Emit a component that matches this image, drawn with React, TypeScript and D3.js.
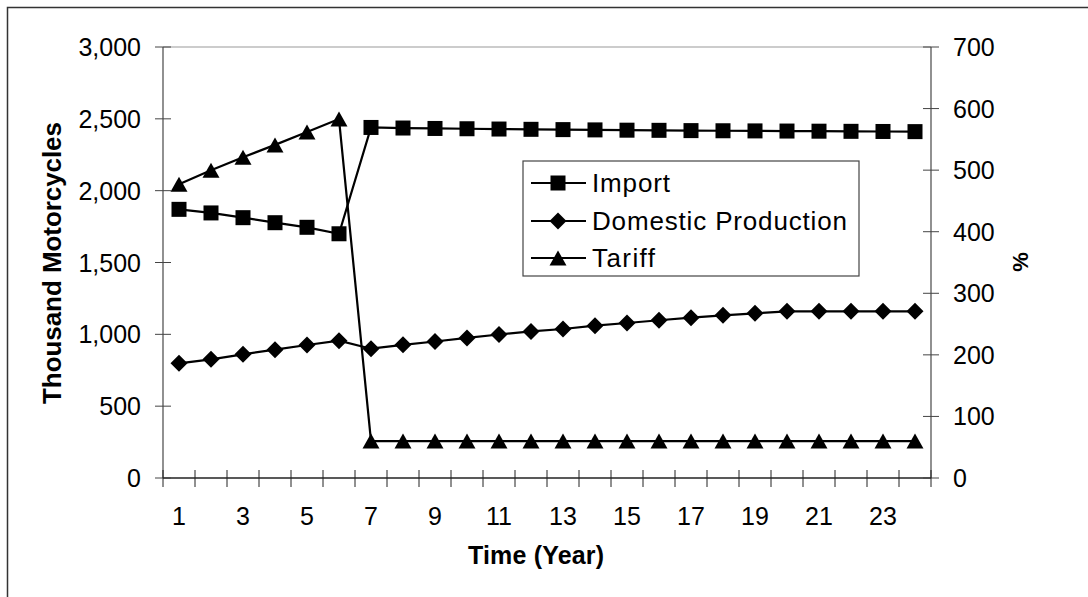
import React from "react";
import * as d3 from "d3";

const years = Array.from({ length: 24 }, (_, i) => i + 1);
const importValues = [1870, 1845, 1812, 1777, 1745, 1700, 2440, 2436, 2433, 2431, 2429, 2427, 2425, 2423, 2421, 2420, 2418, 2417, 2416, 2415, 2414, 2413, 2412, 2411];
const domesticValues = [798, 826, 861, 893, 926, 956, 900, 927, 950, 975, 999, 1020, 1037, 1060, 1079, 1098, 1116, 1132, 1146, 1160, 1160, 1160, 1160, 1160];
const tariffValues = [477, 500, 521, 541, 562, 583, 60, 60, 60, 60, 60, 60, 60, 60, 60, 60, 60, 60, 60, 60, 60, 60, 60, 60];
const leftTicks = [0, 500, 1000, 1500, 2000, 2500, 3000];
const rightTicks = [0, 100, 200, 300, 400, 500, 600, 700];
const xLabelYears = years.filter((y) => y % 2 === 1);
const seriesNames = ["Import", "Domestic Production", "Tariff"];

const W = 1088, H = 597;
const L = 163, R = 931, T = 47, B = 478;
const FONT = "'Liberation Sans', Arial, sans-serif";

function marker(kind: string, cx: number, cy: number, key?: any) {
  if (kind === "square") {
    const s = 7.5;
    return <rect key={key} x={cx - s} y={cy - s} width={2 * s} height={2 * s} fill="#000" />;
  }
  if (kind === "diamond") {
    const s = 8.5;
    return <path key={key} d={`M${cx},${cy - s}L${cx + s},${cy}L${cx},${cy + s}L${cx - s},${cy}Z`} fill="#000" />;
  }
  const w = 8.5, h = 7.5;
  return <path key={key} d={`M${cx},${cy - h}L${cx + w},${cy + h}L${cx - w},${cy + h}Z`} fill="#000" />;
}

export default function App() {
  const x = d3.scaleBand<number>().domain(years).range([L, R]).padding(0);
  const cx = (d: number) => (x(d) as number) + x.bandwidth() / 2;
  const yL = d3.scaleLinear().domain([0, 3000]).range([B, T]);
  const yR = d3.scaleLinear().domain([0, 700]).range([B, T]);
  const fmt = d3.format(",");

  const series = [
    { name: seriesNames[0], values: importValues, y: yL, kind: "square" },
    { name: seriesNames[1], values: domesticValues, y: yL, kind: "diamond" },
    { name: seriesNames[2], values: tariffValues, y: yR, kind: "triangle" },
  ];

  const xTickPositions = d3.range(years.length + 1).map((i) => L + i * x.bandwidth());

  const legendRows = [183, 221, 258];

  return (
    <svg width={W} height={H} style={{ position: "absolute", left: 0, top: 0 }} fontFamily={FONT}>
      <rect x={0} y={0} width={W} height={H} fill="#fff" />
      <rect x={7.5} y={7.5} width={W + 20} height={H + 20} fill="none" stroke="#333" strokeWidth={1.5} />

      {/* plot area top border */}
      <line x1={L} x2={R} y1={T} y2={T} stroke="#999" strokeWidth={1} />

      {/* axes */}
      <line x1={L} x2={L} y1={T} y2={B} stroke="#555" strokeWidth={1.3} />
      <line x1={R} x2={R} y1={T} y2={B} stroke="#555" strokeWidth={1.3} />
      <line x1={L} x2={R} y1={B} y2={B} stroke="#222" strokeWidth={1.3} />

      {leftTicks.map((t) => (
        <g key={"l" + t}>
          <line x1={L - 8} x2={L + 8} y1={yL(t)} y2={yL(t)} stroke="#444" strokeWidth={1} />
          <text x={141} y={yL(t) + 9} textAnchor="end" fontSize={25} fill="#000">{fmt(t)}</text>
        </g>
      ))}
      {rightTicks.map((t) => (
        <g key={"r" + t}>
          <line x1={R - 8} x2={R + 8} y1={yR(t)} y2={yR(t)} stroke="#444" strokeWidth={1} />
          <text x={953} y={yR(t) + 9} textAnchor="start" fontSize={25} fill="#000">{fmt(t)}</text>
        </g>
      ))}
      {xTickPositions.map((p, i) => (
        <line key={"xt" + i} x1={p} x2={p} y1={B - 8} y2={B + 9} stroke="#222" strokeWidth={1} />
      ))}
      {xLabelYears.map((yv) => (
        <text key={"xl" + yv} x={cx(yv)} y={525} textAnchor="middle" fontSize={25} fill="#000">{yv}</text>
      ))}

      {/* axis titles */}
      <text x={536} y={564} textAnchor="middle" fontSize={25} fontWeight="bold" textLength={136} lengthAdjust="spacing">Time (Year)</text>
      <text transform={`translate(61,263) rotate(-90)`} textAnchor="middle" fontSize={26} fontWeight="bold" textLength={282} lengthAdjust="spacing">Thousand Motorcycles</text>
      <text transform={`translate(1028,262) rotate(-90)`} textAnchor="middle" fontSize={22} fontWeight="bold">%</text>

      {/* series */}
      {series.map((s) => {
        const line = d3.line<number>().x((_, i) => cx(years[i])).y((v) => s.y(v));
        return (
          <g key={s.name}>
            <path d={line(s.values) as string} fill="none" stroke="#000" strokeWidth={2.2} />
            {s.values.map((v, i) => marker(s.kind, cx(years[i]), s.y(v), i))}
          </g>
        );
      })}

      {/* legend */}
      <rect x={523} y={161} width={336} height={115} fill="#fff" stroke="#444" strokeWidth={1.2} />
      {series.map((s, i) => (
        <g key={"lg" + s.name}>
          <line x1={531} x2={586} y1={legendRows[i]} y2={legendRows[i]} stroke="#000" strokeWidth={2.2} />
          {marker(s.kind, 558, legendRows[i])}
          <text x={592} y={legendRows[i] + 9} fontSize={26} fill="#000"
            textLength={s.name === "Import" ? 78 : s.name === "Tariff" ? 63 : 255} lengthAdjust="spacing">{s.name}</text>
        </g>
      ))}
    </svg>
  );
}
